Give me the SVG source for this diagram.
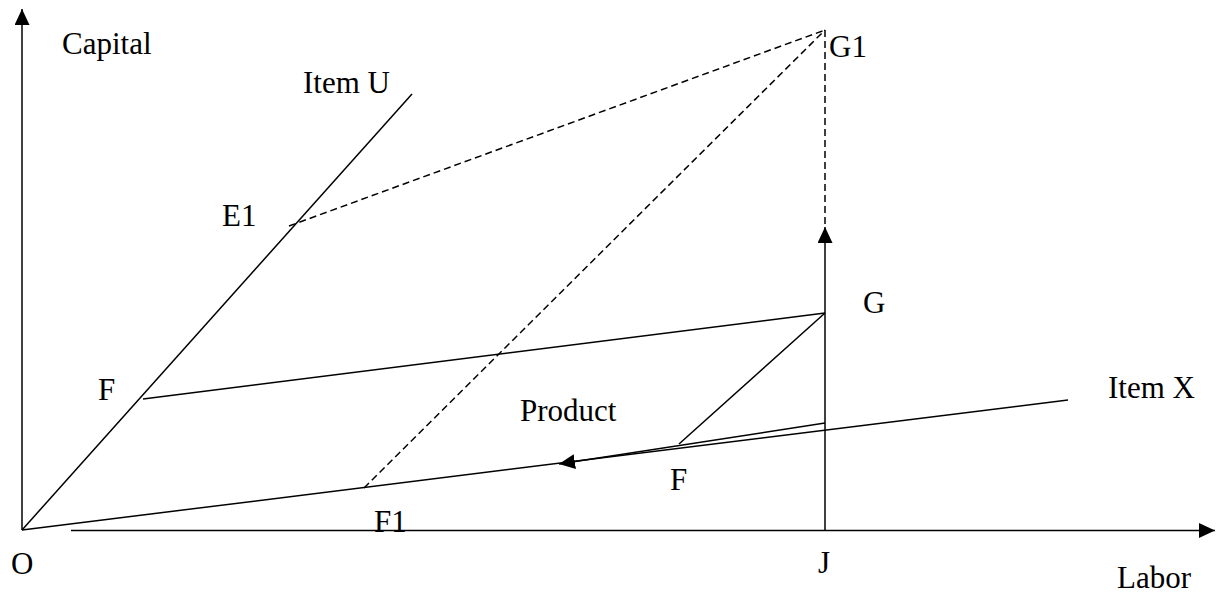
<svg xmlns="http://www.w3.org/2000/svg" width="1222" height="595" viewBox="0 0 1222 595">
<style>
.ln{stroke:#000;stroke-width:1.5;fill:none}
.ds{stroke:#000;stroke-width:1.5;fill:none;stroke-dasharray:7,4}
text{font-family:"Liberation Serif","Times New Roman",serif;font-size:31px;fill:#000}
</style>
<defs>
<marker id="ah" markerUnits="userSpaceOnUse" markerWidth="17" markerHeight="16" refX="16" refY="7.5" orient="auto">
<path d="M0,0 L16,7.5 L0,15 z" fill="#000"/>
</marker>
</defs>
<g id="connectors">
<line class="ln" x1="22" y1="530" x2="22" y2="9" marker-end="url(#ah)"/>
<line class="ln" x1="71" y1="530.5" x2="1215" y2="530.5" marker-end="url(#ah)"/>
<line class="ln" x1="22" y1="530" x2="412" y2="94"/>
<line class="ln" x1="22" y1="530" x2="1068" y2="400"/>
<line class="ds" x1="289" y1="226" x2="825" y2="30"/>
<line class="ds" x1="364" y1="488" x2="825" y2="30"/>
<line class="ds" x1="825" y1="30" x2="825" y2="228"/>
<line class="ln" x1="825" y1="530" x2="825" y2="227" marker-end="url(#ah)"/>
<line class="ln" x1="143" y1="399" x2="825" y2="313"/>
<line class="ln" x1="825" y1="313" x2="679" y2="444"/>
<line class="ln" x1="825" y1="423" x2="559" y2="464" marker-end="url(#ah)"/>
</g>
<g id="labels">
<text id="capital" x="62" y="54">Capital</text>
<text id="itemU" x="303" y="93">Item U</text>
<text id="G1" x="829" y="57">G1</text>
<text id="E1" x="222" y="226">E1</text>
<text id="G" x="863" y="313">G</text>
<text id="F-left" x="98" y="400">F</text>
<text id="product" x="520" y="421">Product</text>
<text id="itemX" x="1108" y="398">Item X</text>
<text id="F-lower" x="670" y="490">F</text>
<text id="F1" x="374" y="532">F1</text>
<text id="O" x="11" y="574">O</text>
<text id="J" x="818" y="573">J</text>
<text id="labor" x="1117" y="588">Labor</text>
</g>
</svg>
